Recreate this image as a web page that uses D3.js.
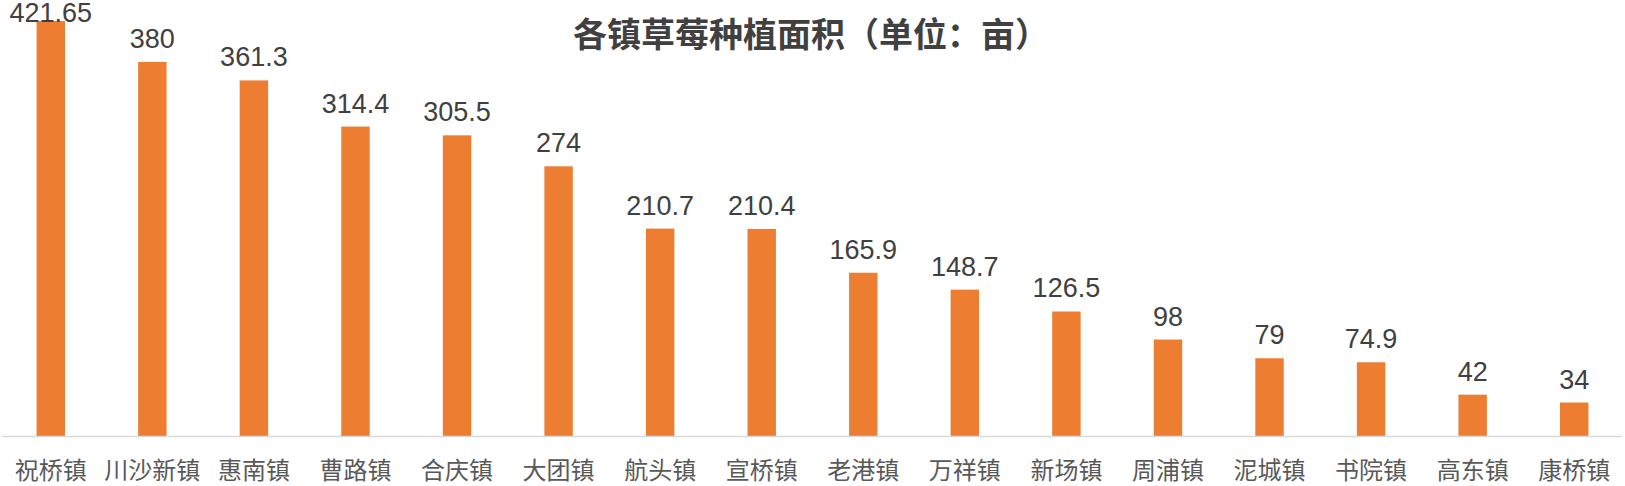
<!DOCTYPE html>
<html>
<head>
<meta charset="utf-8">
<script src="https://cdn.jsdelivr.net/npm/d3@7"></script>
<style>
  html, body { margin: 0; padding: 0; background: #fff; overflow: hidden; }
</style>
</head>
<body>
<div id="vis"></div>
<script>
// 各镇草莓种植面积 data
var towns = ["祝桥镇", "川沙新镇", "惠南镇", "曹路镇", "合庆镇", "大团镇", "航头镇", "宣桥镇",
             "老港镇", "万祥镇", "新场镇", "周浦镇", "泥城镇", "书院镇", "高东镇", "康桥镇"];
var areas = [421.65, 380, 361.3, 314.4, 305.5, 274, 210.7, 210.4,
             165.9, 148.7, 126.5, 98, 79, 74.9, 42, 34];
var labels = ["421.65", "380", "361.3", "314.4", "305.5", "274", "210.7", "210.4",
              "165.9", "148.7", "126.5", "98", "79", "74.9", "42", "34"];
var title = "各镇草莓种植面积（单位：亩）";

var W = 1625, H = 486;
var baseY = 436;

var svg = d3.select("#vis").append("svg")
  .attr("width", W)
  .attr("height", H);

var x = d3.scaleBand()
  .domain(towns)
  .range([0, W])
  .paddingInner(0.72)
  .paddingOuter(0.36);

var y = d3.scaleLinear()
  .domain([0, 443])
  .range([baseY, 0]);

// bars
svg.selectAll("rect.bar")
  .data(areas)
  .enter().append("rect")
  .attr("class", "bar")
  .attr("x", function(d, i) { return x(towns[i]); })
  .attr("y", function(d) { return y(d); })
  .attr("width", x.bandwidth())
  .attr("height", function(d) { return y(0) - y(d); })
  .attr("fill", "#ED7D31");

// baseline
svg.append("line")
  .attr("x1", 2)
  .attr("x2", W - 3)
  .attr("y1", baseY + 0.5)
  .attr("y2", baseY + 0.5)
  .attr("stroke", "#d9d9d9")
  .attr("stroke-width", 1.5);

// value labels (top one is pushed down so it stays inside, like excel does)
svg.selectAll("text.val")
  .data(areas)
  .enter().append("text")
  .attr("class", "val")
  .attr("x", function(d, i) { return x(towns[i]) + x.bandwidth() / 2; })
  .attr("y", function(d) { return Math.max(y(d) - 14, 22); })
  .attr("text-anchor", "middle")
  .style("font-family", "'Liberation Sans', Arial, sans-serif")
  .style("font-size", "27px")
  .attr("fill", "#404040")
  .text(function(d, i) { return labels[i]; });

// category axis labels
svg.selectAll("text.cat")
  .data(towns)
  .enter().append("text")
  .attr("class", "cat")
  .attr("x", function(d) { return x(d) + x.bandwidth() / 2; })
  .attr("y", 479)
  .attr("text-anchor", "middle")
  .style("font-family", "'Noto Sans CJK SC', sans-serif")
  .style("font-size", "24px")
  .attr("fill", "#595959")
  .text(function(d) { return d; });

// title
svg.append("text")
  .attr("x", 811)
  .attr("y", 47)
  .attr("text-anchor", "middle")
  .style("font-family", "'Noto Sans CJK SC', sans-serif")
  .style("font-size", "34px")
  .style("font-weight", "bold")
  .attr("fill", "#404040")
  .text(title);
</script>
</body>
</html>
